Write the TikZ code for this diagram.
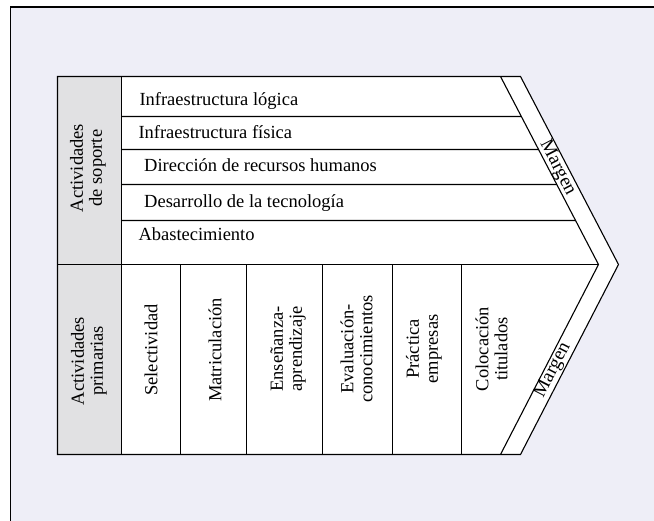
\documentclass[tikz,border=0pt]{standalone}
\usepackage{fontspec}
\setmainfont{Liberation Serif}
\usetikzlibrary{calc}
\begin{document}
\begin{tikzpicture}[x=1pt,y=-1pt,
  lbl/.style={font=\fontsize{18.5}{19}\selectfont, inner sep=0pt},
  vlbl/.style={lbl, rotate=90, align=center},
  marg/.style={lbl, font=\fontsize{19}{19}\selectfont},
  edge/.style={draw=black, line width=1.1pt, line join=miter}]
\useasboundingbox (0,0) rectangle (654,521);
% page and panel
\fill[white] (0,0) rectangle (654,521);
\fill[fill={rgb,255:red,238;green,238;blue,247}] (10.5,7) rectangle (654,521);
\draw[line width=1.5pt] (10.5,521) -- (10.5,7) -- (654,7);

% key points of the chevron
\coordinate (tl) at (57.5,76.5);
\coordinate (bl) at (57.5,454.5);
\coordinate (ti) at (500.5,76.5);
\coordinate (bi) at (500.5,454.5);
\coordinate (pi) at (598.5,264.5);
\coordinate (to) at (520.5,76.5);
\coordinate (bo) at (520.5,454.5);
\coordinate (po) at (618.5,264.5);

% value chain outline
\fill[white] (tl) -- (to) -- (po) -- (bo) -- (bl) -- cycle;
\fill[fill={rgb,255:red,225;green,225;blue,227}] (tl) rectangle (121.5,454.5);
\draw[edge] (tl) -- (to) -- (po) -- (bo) -- (bl) -- cycle;
\draw[edge] (121.5,76.5) -- (121.5,454.5);
% margin band
\draw[edge] (ti) -- (pi) -- (bi);
% support / primary split
\draw[edge] (57.5,264.5) -- (pi);
% support bands, each ending on the margin band
\foreach \yy in {116.5,149.5,184.5,220.5}
  \draw[edge] (121.5,\yy) -- ($(ti)!{(\yy-76.5)/188}!(pi)$);
% primary columns
\foreach \cx in {180.5,246.5,322.5,392.5,461.5}
  \draw[edge] (\cx,264.5) -- (\cx,454.5);

% labels
\node[vlbl] (soporte) at (88,168) {Actividades\\de soporte};
\node[vlbl] (primarias) at (89,361) {Actividades\\primarias};

\node[lbl, anchor=base west] (infl) at (139.3,106)   {Infraestructura lógica};
\node[lbl, anchor=base west] (inff) at (138.3,138.3) {Infraestructura física};
\node[lbl, anchor=base west] (rrhh) at (144,171.7)   {Dirección de recursos humanos};
\node[lbl, anchor=base west] (tec)  at (144,207.7)   {Desarrollo de la tecnología};
\node[lbl, anchor=base west] (abas) at (138.3,240.7) {Abastecimiento};

\node[vlbl] (sel) at (151,350)   {Selectividad};
\node[vlbl] (mat) at (215,350)   {Matriculación};
\node[vlbl] (ens) at (288,349)   {Enseñanza-\\aprendizaje};
\node[vlbl] (eva) at (356.5,349) {Evaluación-\\conocimientos};
\node[vlbl] (pra) at (424,349)   {Práctica\\empresas};
\node[vlbl] (col) at (491.5,349) {Colocación\\titulados};

\node[marg, rotate=-62.5] (m1) at (557.5,168) {Margen};
\node[marg, rotate=62.7]  (m2) at (553,370)   {Margen};
\end{tikzpicture}
\end{document}
